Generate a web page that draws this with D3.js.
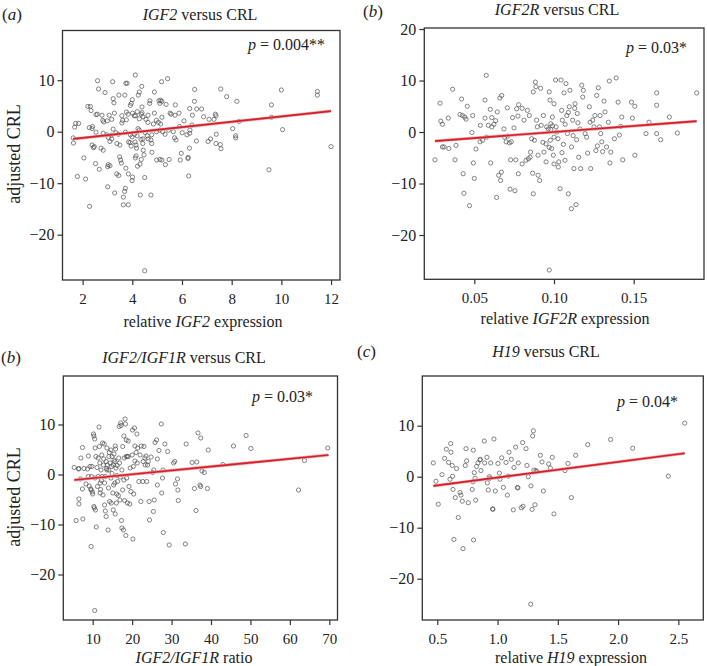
<!DOCTYPE html>
<html><head><meta charset="utf-8">
<script src="https://cdn.jsdelivr.net/npm/d3@7"></script>
<style>body{margin:0;background:#fff}svg{display:block}text{font-family:"Liberation Serif","Times New Roman",serif;fill:#222}</style>
</head><body><svg id="c" width="707" height="666"></svg>
<script>
// ---- data: [x, adjusted CRL] ----
const igf2Points = [[4.12,11.0],[5.42,10.3],[5.18,9.7],[2.60,9.9],[3.21,9.7],[3.74,9.4],[3.79,9.4],[2.64,8.3],[4.38,8.8],[2.90,7.6],[6.51,8.2],[7.56,8.3],[4.89,7.7],[3.46,7.1],[3.70,7.1],[3.23,6.4],[3.26,5.6],[4.28,7.7],[4.24,7.1],[4.00,6.2],[3.96,5.5],[3.92,5.1],[4.39,4.8],[4.71,6.0],[4.70,5.5],[5.07,6.0],[5.14,6.1],[5.11,5.5],[5.19,5.9],[5.36,5.3],[6.50,5.9],[6.59,4.4],[6.79,4.4],[5.73,5.2],[5.52,3.6],[5.56,3.4],[5.88,3.6],[5.72,3.2],[6.08,2.1],[6.31,4.5],[6.42,3.2],[6.87,2.9],[7.09,2.4],[7.29,2.4],[7.34,3.4],[7.37,3.1],[7.80,6.8],[8.21,5.9],[8.04,0.6],[8.16,-0.8],[8.16,-1.2],[2.21,4.9],[2.31,4.9],[2.34,4.1],[2.54,3.3],[2.59,3.4],[2.78,3.2],[2.81,2.2],[2.85,1.9],[3.07,3.2],[3.28,3.6],[3.17,2.4],[2.99,2.1],[3.58,3.1],[3.61,2.2],[3.58,1.7],[3.76,3.8],[3.83,3.4],[3.76,2.3],[4.01,3.6],[4.08,3.1],[4.13,3.1],[4.20,3.9],[4.39,3.7],[4.36,3.4],[4.28,2.5],[4.43,2.9],[4.63,3.2],[4.55,2.4],[4.63,1.8],[4.89,3.6],[4.97,2.2],[5.05,1.8],[4.85,1.5],[5.19,2.8],[5.14,1.5],[1.72,1.6],[1.84,1.6],[1.68,0.9],[1.62,-1.2],[1.63,-2.2],[2.27,0.8],[2.38,0.6],[2.40,1.0],[2.54,-0.1],[2.83,-0.3],[2.97,-0.6],[3.03,-1.1],[3.15,-0.7],[3.23,0.5],[3.34,-0.2],[3.44,-0.5],[3.72,-0.1],[3.92,-0.6],[3.99,-1.0],[4.09,-0.5],[4.19,-0.8],[4.23,0.6],[4.28,0.3],[4.52,-0.2],[4.60,-0.8],[4.43,-1.4],[4.78,-0.6],[4.97,0.0],[5.10,0.3],[5.22,0.0],[5.32,-0.5],[5.46,0.3],[5.65,0.0],[5.70,-1.2],[5.76,-1.6],[6.01,-0.2],[6.32,0.3],[6.31,-0.3],[2.38,-2.6],[2.44,-3.1],[2.47,-2.9],[2.74,-3.2],[2.83,-3.6],[3.10,-1.9],[3.17,-1.4],[3.38,-2.3],[3.50,-2.6],[3.85,-2.0],[3.91,-2.1],[3.95,-2.8],[4.11,-2.0],[4.15,-2.6],[4.17,-3.2],[4.35,-1.5],[4.42,-2.3],[4.44,-3.6],[4.47,-4.5],[4.36,-5.4],[4.64,-1.4],[4.75,-1.6],[4.78,-2.3],[4.79,-4.0],[4.98,-5.5],[5.11,-5.4],[5.19,-5.5],[5.33,-6.4],[5.48,-5.4],[5.93,-5.5],[6.24,-5.2],[6.58,-1.8],[7.05,-1.9],[7.15,-1.4],[7.38,-0.5],[7.54,-2.5],[7.57,-3.3],[7.37,-2.3],[2.05,-5.1],[2.52,-6.2],[2.67,-7.3],[3.01,-6.8],[3.10,-6.6],[3.03,-6.4],[3.49,-4.9],[3.53,-5.5],[3.56,-6.1],[3.37,-8.2],[3.45,-8.5],[3.74,-7.1],[3.84,-8.2],[4.21,-6.7],[4.31,-6.3],[4.12,-5.1],[4.15,-4.7],[4.01,-8.8],[3.99,-9.5],[4.50,-8.9],[6.27,-8.6],[1.79,-8.7],[2.12,-9.2],[3.01,-10.7],[3.29,-11.9],[3.72,-11.0],[3.69,-11.6],[3.64,-12.7],[3.84,-14.2],[3.64,-14.2],[4.32,-12.3],[4.75,-12.3],[2.28,-14.5],[9.5,-7.4],[10.0,8.1],[9.6,5.2],[9.6,2.8],[10.05,0.4],[11.45,7.8],[11.45,7.1],[12.0,-2.9],[4.5,-27.0],[8.3,2.0],[6.3,-3.2],[6.25,-5.0],[5.97,-4.2],[6.4,1.3],[6.2,-0.6],[5.9,1.0]];
const igf2rPoints = [[0.0253,-5.4],[0.0285,5.6],[0.029,2.1],[0.030,1.5],[0.030,-2.9],[0.031,-2.9],[0.0337,2.7],[0.034,-3.2],[0.0364,8.3],[0.0379,-5.4],[0.0385,-2.6],[0.041,3.4],[0.0425,3.2],[0.042,6.4],[0.043,-8.1],[0.0435,-11.9],[0.044,2.9],[0.0448,2.5],[0.0456,5.0],[0.047,-14.3],[0.0485,-0.1],[0.049,3.2],[0.0494,-6.0],[0.050,-9.0],[0.051,-3.3],[0.0536,-1.9],[0.0538,1.3],[0.0552,-1.6],[0.0567,6.2],[0.0567,2.7],[0.0575,11.0],[0.0577,-1.0],[0.0588,1.3],[0.060,4.4],[0.0603,-6.0],[0.061,1.0],[0.061,2.8],[0.0623,1.5],[0.0634,2.2],[0.064,-12.7],[0.0644,3.9],[0.0653,-8.4],[0.066,6.6],[0.0665,-9.4],[0.067,-7.8],[0.0672,7.1],[0.0686,0.6],[0.069,-1.0],[0.070,-1.9],[0.0707,4.7],[0.071,-0.8],[0.072,-2.1],[0.0724,-11.1],[0.0728,-5.4],[0.0732,-1.9],[0.074,2.8],[0.0749,0.8],[0.0755,-11.4],[0.076,-5.4],[0.0766,4.5],[0.0774,3.1],[0.0776,-8.1],[0.0778,5.3],[0.080,4.6],[0.080,-6.2],[0.0812,2.3],[0.0824,-5.5],[0.0833,4.2],[0.0839,-5.2],[0.0845,3.2],[0.085,-4.9],[0.0853,-3.9],[0.086,-1.3],[0.0866,-8.0],[0.087,7.8],[0.087,-12.0],[0.0877,-1.6],[0.0883,9.7],[0.0887,8.8],[0.0891,2.3],[0.0895,1.0],[0.090,-8.4],[0.091,-9.4],[0.0916,8.5],[0.092,1.3],[0.0933,3.2],[0.0937,-3.9],[0.095,-2.3],[0.0954,1.0],[0.0964,0.6],[0.097,7.8],[0.097,-26.8],[0.0975,6.2],[0.0977,-1.6],[0.098,1.6],[0.0985,-3.2],[0.099,2.9],[0.0996,-4.5],[0.100,5.5],[0.100,-6.2],[0.101,10.1],[0.1013,1.0],[0.1017,0.0],[0.1025,-1.3],[0.1027,-6.8],[0.1038,-11.0],[0.1044,10.1],[0.1048,4.2],[0.1052,2.3],[0.1059,-2.4],[0.1063,7.6],[0.1069,-5.5],[0.1075,9.4],[0.108,3.2],[0.1084,-0.3],[0.109,-12.0],[0.1096,4.9],[0.110,8.1],[0.1109,-14.9],[0.111,-2.9],[0.1117,2.3],[0.1125,-7.1],[0.1132,5.5],[0.1138,-14.1],[0.1142,-1.5],[0.1146,3.6],[0.1155,-4.9],[0.1163,0.6],[0.1167,-7.1],[0.1174,9.1],[0.118,6.8],[0.1184,8.1],[0.1195,-0.3],[0.1205,-1.0],[0.1211,-4.1],[0.1222,4.9],[0.1226,1.9],[0.123,-7.1],[0.1243,2.3],[0.1251,1.0],[0.1257,3.2],[0.1263,-3.6],[0.1268,7.1],[0.1272,-2.7],[0.1278,8.6],[0.1285,1.0],[0.1289,3.2],[0.1293,-0.3],[0.130,-1.9],[0.1305,-3.8],[0.1314,6.0],[0.132,3.9],[0.133,-2.9],[0.1341,1.9],[0.1347,9.9],[0.1351,-6.0],[0.1356,-3.9],[0.1379,-1.3],[0.139,10.5],[0.1402,5.8],[0.141,-0.6],[0.1418,1.1],[0.1425,2.9],[0.1431,-5.4],[0.1486,5.8],[0.1492,2.7],[0.1507,5.0],[0.1507,-4.5],[0.1577,-0.3],[0.1596,1.9],[0.1644,7.6],[0.1644,5.2],[0.1644,-0.3],[0.1669,-1.5],[0.1724,2.9],[0.1774,-0.2],[0.1895,7.6],[0.098,0.5],[0.099,1.2],[0.100,-1.0],[0.097,-3.0],[0.103,-5.8],[0.105,-4.0],[0.107,1.5],[0.109,3.8],[0.112,-0.7],[0.113,4.6],[0.115,1.8],[0.095,-5.8],[0.093,-2.0],[0.090,-4.5]];
const ratioPoints = [[5.3,1.4],[5.8,-9.2],[6.4,1.1],[6.5,1.2],[6.5,-4.9],[6.5,-5.9],[6.9,-0.9],[7.0,3.3],[7.4,-2.9],[7.4,5.4],[7.5,-8.9],[7.8,1.2],[8.3,-1.9],[8.7,1.1],[8.9,3.7],[8.9,-0.4],[9.1,-2.3],[9.3,1.6],[9.5,-2.9],[9.6,-3.1],[9.6,-14.4],[9.7,-0.4],[9.8,1.6],[9.9,-3.5],[10.0,-3.9],[10.2,8.1],[10.3,7.7],[10.3,-6.4],[10.4,-6.7],[10.7,-7.1],[10.5,7.1],[10.5,-27.2],[10.6,5.3],[10.6,-0.7],[10.8,3.6],[10.9,-10.5],[11.2,-2.4],[11.4,-0.4],[11.4,3.3],[11.6,9.5],[11.7,5.6],[11.8,2.3],[11.9,-1.7],[11.9,-3.7],[12.1,0.9],[12.3,3.9],[12.4,-0.4],[12.5,6.3],[12.6,-4.1],[12.7,1.9],[12.8,3.1],[12.9,6.1],[13.0,-1.7],[13.0,-6.1],[13.2,-0.4],[13.2,-7.3],[13.4,-8.4],[13.4,2.6],[13.6,0.9],[13.6,5.3],[13.7,1.9],[13.9,-11.1],[14.0,-2.7],[14.1,3.6],[14.1,0.9],[14.2,4.4],[14.3,-5.4],[14.4,2.3],[14.6,-0.7],[14.6,4.9],[14.7,-5.7],[14.8,1.6],[14.9,3.6],[15.1,-3.7],[15.2,-7.1],[15.2,1.9],[15.3,-2.1],[15.4,4.1],[15.6,-1.7],[15.6,2.6],[15.7,-7.9],[15.7,5.7],[15.8,5.1],[15.9,1.3],[16.0,-5.7],[16.1,-3.9],[16.1,-0.2],[16.3,-1.4],[16.5,-4.2],[16.6,3.3],[16.7,9.6],[16.8,2.3],[16.9,-5.1],[17.1,10.3],[17.2,9.8],[17.3,-9.2],[17.4,-10.7],[17.4,0.9],[17.6,5.6],[17.6,-3.1],[17.8,-11.1],[17.9,7.7],[17.9,-1.1],[18.0,3.3],[18.1,-5.2],[18.2,11.1],[18.3,10.1],[18.4,-12.2],[18.5,3.6],[18.8,3.6],[19.0,3.6],[18.5,6.9],[18.6,-0.7],[18.8,-5.7],[19.0,6.7],[19.2,-2.4],[19.4,-5.9],[19.5,1.3],[19.7,-3.4],[20.0,3.9],[20.1,8.9],[20.2,-12.9],[20.3,1.6],[20.4,-3.9],[20.6,9.3],[20.7,2.7],[20.7,5.7],[21.0,4.4],[21.2,8.1],[21.3,2.3],[21.4,5.3],[21.7,-1.4],[22.0,3.9],[22.2,-5.4],[22.3,5.7],[22.7,-1.4],[22.8,2.6],[23.0,5.6],[23.2,3.3],[23.3,1.9],[23.5,3.7],[23.7,-1.4],[23.9,1.9],[24.1,2.6],[24.3,-5.4],[24.4,-9.1],[24.8,3.5],[25.2,0.4],[25.4,-7.4],[25.5,0.9],[25.6,-5.1],[25.8,6.4],[26.2,6.9],[26.4,3.1],[26.4,-2.1],[26.8,4.8],[27.4,10.1],[27.5,-3.7],[27.7,-0.7],[27.8,0.9],[27.9,-11.6],[28.3,6.1],[29.0,4.6],[29.4,-14.1],[30.5,2.3],[30.8,2.6],[31.0,-1.9],[31.5,-0.9],[31.6,-3.1],[31.7,-5.2],[33.5,-13.9],[33.7,6.1],[35.2,2.4],[35.8,-2.8],[36.2,-7.2],[36.4,2.5],[36.7,8.3],[37.4,7.3],[37.2,-2.1],[37.4,-2.4],[37.7,0.7],[38.3,0.4],[39.1,-2.8],[39.3,4.9],[43.0,2.0],[45.7,5.7],[48.9,7.8],[50.1,5.2],[62.2,-3.1],[63.7,2.8],[69.6,5.3],[12.2,-1.2],[13.5,1.2],[14.9,0.2],[15.4,2.9],[16.2,1.8],[17.0,-0.5],[12.0,-3.0],[11.1,1.4]];
const h19Points = [[0.467,2.7],[0.489,-0.9],[0.508,-5.4],[0.539,0.4],[0.561,3.6],[0.575,5.4],[0.594,2.8],[0.605,-0.5],[0.611,6.5],[0.613,4.8],[0.624,2.2],[0.627,0.1],[0.630,-2.5],[0.638,-12.3],[0.649,-4.1],[0.660,1.6],[0.674,-8.0],[0.688,-3.1],[0.696,-3.6],[0.707,-4.8],[0.713,-14.1],[0.732,2.2],[0.738,5.5],[0.743,3.1],[0.757,-5.1],[0.790,-2.5],[0.796,-1.0],[0.799,5.2],[0.801,-12.4],[0.807,0.8],[0.813,-0.3],[0.818,-4.6],[0.826,2.0],[0.837,2.7],[0.854,3.3],[0.857,3.4],[0.862,1.2],[0.890,7.0],[0.893,2.7],[0.912,3.8],[0.915,-1.2],[0.923,-2.6],[0.932,0.0],[0.937,-0.3],[0.943,2.7],[0.959,-6.3],[0.961,-6.4],[0.970,7.4],[0.981,-2.8],[1.003,2.6],[1.015,0.7],[1.020,-0.5],[1.034,3.7],[1.048,-2.1],[1.070,2.8],[1.081,-3.6],[1.089,0.1],[1.095,4.8],[1.114,3.4],[1.131,-6.5],[1.136,1.8],[1.150,5.8],[1.164,-2.1],[1.169,-2.2],[1.172,2.7],[1.197,-6.1],[1.208,6.7],[1.211,-5.8],[1.236,5.5],[1.244,2.2],[1.255,0.0],[1.275,-25.0],[1.277,-1.8],[1.286,-6.4],[1.291,8.0],[1.297,9.0],[1.302,1.3],[1.310,-5.5],[1.319,1.2],[1.324,1.0],[1.355,4.2],[1.369,2.9],[1.380,-2.8],[1.424,2.5],[1.438,1.7],[1.454,3.8],[1.468,-7.3],[1.559,1.2],[1.584,2.6],[1.612,-4.1],[1.648,4.2],[1.748,6.3],[1.938,7.3],[2.121,5.6],[2.417,0.1],[2.553,10.5]];
// regression lines: [x, fitted CRL] at both ends
const igf2Fit = [[1.62,-1.4],[12.0,4.0]];
const igf2rFit = [[0.0253,-1.75],[0.1895,2.1]];
const ratioFit = [[5.3,-1.1],[69.8,3.9]];
const h19Fit = [[0.467,-1.8],[2.553,4.6]];
// tick labels
const igf2Ticks = [2,4,6,8,10,12];
const igf2rTicks = [0.05,0.10,0.15];
const ratioTicks = [10,20,30,40,50,60,70];
const h19Ticks = [0.5,1.0,1.5,2.0,2.5];
const crlTicks = [-20,-10,0,10];
const crlTicksB = [-20,-10,0,10,20];

const svg = d3.select('#c');

function rich(sel, parts){ parts.forEach(p=>{ const t=sel.append('tspan').text(p[0]); if(p[1]) t.attr('font-style','italic'); }); return sel; }

function panel(c){
  const g = svg.append('g');
  const x = d3.scaleLinear().domain(c.xd).range([c.L, c.R]);
  const y = d3.scaleLinear().domain(c.yd).range([c.B, c.T]);
  g.append('g').selectAll('circle').data(c.pts).join('circle')
    .attr('cx', d=>x(d[0])).attr('cy', d=>y(d[1])).attr('r', 2.1)
    .attr('fill','none').attr('stroke','#4a4a4a').attr('stroke-width',0.8).attr('stroke-opacity',0.85);
  const line = d3.line().x(d=>x(d[0])).y(d=>y(d[1]));
  g.append('path').attr('d', line(c.fit)).attr('stroke','#f2a0a4').attr('stroke-width',3.0).attr('fill','none');
  g.append('path').attr('d', line(c.fit)).attr('stroke','#d21f2a').attr('stroke-width',1.7).attr('fill','none');
  g.append('rect').attr('x',c.L).attr('y',c.T).attr('width',c.R-c.L).attr('height',c.B-c.T)
    .attr('fill','none').attr('stroke','#333').attr('stroke-width',1.3);
  const ax = g.append('g').attr('transform',`translate(0,${c.B})`)
    .call(d3.axisBottom(x).tickValues(c.xt).tickSize(5).tickPadding(8).tickFormat(c.xf || d3.format('d')));
  const ay = g.append('g').attr('transform',`translate(${c.L},0)`)
    .call(d3.axisLeft(y).tickValues(c.yt).tickSize(5).tickPadding(3).tickFormat(d3.format('d')));
  [ax, ay].forEach((a,i)=>{ a.select('.domain').remove(); a.selectAll('line').attr('stroke','#333').attr('stroke-width',1.2);
    a.selectAll('text').attr('font-size', i===0 ? 15 : 16).attr('font-family','"Liberation Serif",serif').attr('fill','#222'); });
  svg.append('text').attr('x',c.tagX).attr('y',c.tagY).attr('font-size',17).call(s=>rich(s,[['('],[c.tag,true],[')']]));
  svg.append('text').attr('x',c.titleX).attr('y',c.titleY).attr('font-size',16).attr('text-anchor','middle').call(s=>rich(s,c.title));
  svg.append('text').attr('x',c.pX).attr('y',c.pY).attr('font-size',16).attr('text-anchor','end').call(s=>rich(s,[['p',true],[' = '+c.p]]));
  svg.append('text').attr('x',c.xlX).attr('y',c.xlY).attr('font-size',16).attr('text-anchor','middle').call(s=>rich(s,c.xl));
  if(c.yl) svg.append('text').attr('transform',`translate(${c.ylX},${c.ylY}) rotate(-90)`).attr('font-size',18).attr('text-anchor','middle').text(c.yl);
}

panel({pts:igf2Points, fit:igf2Fit, L:62.5,R:340,T:30.5,B:280, xd:[1.19,12.36], yd:[-28.8,19.65], xt:igf2Ticks, yt:crlTicks,
  tag:'a', tagX:2, tagY:20, title:[['IGF2',true],[' versus CRL']], titleX:200, titleY:20, p:'0.004**', pX:325, pY:50,
  xl:[['relative '],['IGF2',true],[' expression']], xlX:203, xlY:327, yl:'adjusted CRL', ylX:20, ylY:154});
panel({pts:igf2rPoints, fit:igf2rFit, L:424.3,R:704,T:28,B:279.3, xd:[0.01863,0.1941], yd:[-28.6,20.2], xt:igf2rTicks, yt:crlTicksB, xf:d3.format('.2f'),
  tag:'b', tagX:363, tagY:17, title:[['IGF2R',true],[' versus CRL']], titleX:557, titleY:15, p:'0.03*', pX:687, pY:53,
  xl:[['relative '],['IGF2R',true],[' expression']], xlX:565, xlY:324});
panel({pts:ratioPoints, fit:ratioFit, L:63.3,R:337.5,T:376,B:620, xd:[2.54,72.08], yd:[-29.1,19.7], xt:ratioTicks, yt:crlTicks,
  tag:'b', tagX:1, tagY:363, title:[['IGF2/IGF1R',true],[' versus CRL']], titleX:184, titleY:363, p:'0.03*', pX:313, pY:402,
  xl:[['IGF2/IGF1R',true],[' ratio']], xlX:194, xlY:663, yl:'adjusted CRL', ylX:20, ylY:497});
panel({pts:h19Points, fit:h19Fit, L:422.3,R:703.3,T:376,B:620, xd:[0.3755,2.707], yd:[-28.1,19.75], xt:h19Ticks, yt:crlTicks, xf:d3.format('.1f'),
  tag:'c', tagX:357, tagY:357, title:[['H19',true],[' versus CRL']], titleX:546, titleY:357, p:'0.04*', pX:678, pY:407,
  xl:[['relative '],['H19',true],[' expression']], xlX:571, xlY:663});
</script></body></html>
